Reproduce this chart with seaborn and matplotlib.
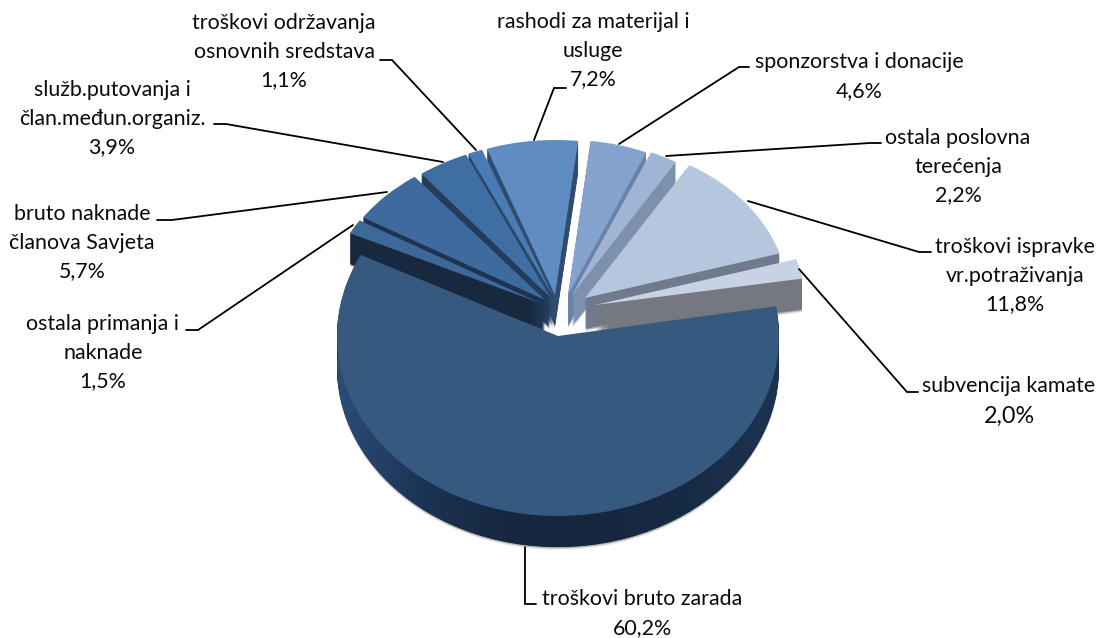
"""
Troskovi - exploded 3D style pie, built from stacked seaborn/matplotlib pie layers
"""

import numpy as np
import matplotlib
matplotlib.use('Agg')
import matplotlib.pyplot as plt
import seaborn as sns
from matplotlib.colors import LinearSegmentedColormap
from matplotlib.transforms import Affine2D

# ===================== Data =====================
slice_names = ["troškovi bruto zarada", "ostala primanja i naknade", "bruto naknade članova Savjeta",
               "služb.putovanja i član.međun.organiz.", "troškovi održavanja osnovnih sredstava",
               "rashodi za materijal i usluge", "sponzorstva i donacije", "ostala poslovna terećenja",
               "troškovi ispravke vr.potraživanja", "subvencija kamate"]
slice_values = [60.2, 1.5, 5.7, 3.9, 1.1, 7.2, 4.6, 2.2, 11.8, 2.0]

label_lines = [["troškovi bruto zarada"], ["ostala primanja i", "naknade"], ["bruto naknade", "članova Savjeta"],
               ["služb.putovanja i", "član.međun.organiz."], ["troškovi održavanja", "osnovnih sredstava"],
               ["rashodi za materijal i", "usluge"], ["sponzorstva i donacije"], ["ostala poslovna", "terećenja"],
               ["troškovi ispravke", "vr.potraživanja"], ["subvencija kamate"]]

# ===================== Styling / layout (pixels) =====================
top_colors = ["#36597f", "#3e6898", "#3e6a9d", "#3f6ea3", "#4a7bb4", "#5f8cc2",
              "#86a3cf", "#a0b5d6", "#b5c6df", "#c8d2e5"]
side_colors = ["#182b45", "#17283f", "#1d3352", "#223c5e", "#2b4768", "#2f4c70",
               "#6a82a8", "#7d91ae", "#6f7a8c", "#75797f"]
draw_order = [5, 4, 3, 2, 1, 6, 7, 8, 9, 0]

tip_x = [558, 540, 545, 550, 553, 555, 568, 572, 585, 595]
tip_y = [336, 303, 300, 297, 296, 295, 295, 295, 298, 305]
radius_x = [221, 213, 215, 212, 214, 205, 200, 202, 203, 210]
radius_y = [180, 155, 155, 155, 155, 155, 155, 155, 155, 160]
depth = 31
start_angle = 9.5

label_x = [642, 103, 82, 112, 284, 593, 859, 958, 1015, 1009]
label_y = [599, 324, 214, 90, 23, 22, 62, 138, 247, 386]
line_step = 28.7
label_font = 15.4
pct_font = [15.4, 15.4, 15.4, 15.4, 15.4, 15.4, 15.4, 15.4, 15.4, 16.8]

leaders = [[(536, 604), (525, 604), (525, 547)],
           [(186, 330), (198, 330), (353, 225)],
           [(157, 220), (172, 220), (387, 192)],
           [(214, 124), (226, 124), (443, 162)],
           [(380, 60), (392, 60), (476, 150)],
           [(566, 88), (554, 88), (534, 140)],
           [(749, 67), (739, 67), (619, 144)],
           [(881, 143), (870, 143), (666, 156)],
           [(931, 252), (919, 252), (748, 201)],
           [(918, 392), (907, 392), (799, 269)]]

# =====================================================

sns.set_theme(style="white")
plt.rcParams['font.family'] = ['Lato', 'DejaVu Sans']

fig = plt.figure(figsize=(11.01, 6.38), dpi=100)
ax = fig.add_axes([0, 0, 1, 1])


def draw_layer(offset, colors, bump):
    """One full pie, every slice moved to its own tip and squashed to its own ellipse."""
    wedges, _ = ax.pie(slice_values, startangle=start_angle, counterclock=False,
                       colors=colors, radius=1, wedgeprops={'linewidth': 0})
    for i, w in enumerate(wedges):
        tr = Affine2D().scale(radius_x[i], -radius_y[i]).translate(tip_x[i], tip_y[i] + offset)
        w.set_transform(tr + ax.transData)
        w.set_zorder(draw_order.index(i) * 10 + bump)
        w.set_clip_on(False)
    return wedges


# soft shadow, then sides, top faces over them
draw_layer(depth + 3, [(0, 0, 0, 0.06)] * 10, 0)
draw_layer(depth + 2, [(0, 0, 0, 0.12)] * 10, 0)
draw_layer(depth + 1, [(0, 0, 0, 0.22)] * 10, 0)

bottom_wedges = None
for off in range(depth, 0, -1):
    layer = draw_layer(off, side_colors, 1)
    if bottom_wedges is None:
        bottom_wedges = layer
draw_layer(0, top_colors, 5)

# main slice side is lighter towards the far left
side_cmap = LinearSegmentedColormap.from_list("side", ["#2b4d77", "#1b3252", "#16263e", "#16263e", "#182b45", "#1c3350"])
grad = np.linspace(0, 1, 256).reshape(1, -1)
im = ax.imshow(grad, cmap=side_cmap, aspect='auto', extent=(337, 779, 548, 336),
               zorder=draw_order.index(0) * 10 + 4)
im.set_clip_path(bottom_wedges[0])

ax.set_aspect('auto')
ax.set_xlim(0, 1101)
ax.set_ylim(638, 0)
ax.axis('off')

# leader lines and labels
for pts in leaders:
    xs, ys = zip(*pts)
    ax.plot(xs, ys, color='black', lw=1.3, solid_joinstyle='miter', zorder=200)

for i, lines in enumerate(label_lines):
    y = label_y[i]
    for line in lines:
        ax.text(label_x[i], y, line, ha='center', va='center', fontsize=label_font, color='#0a0a0a', zorder=210)
        y += line_step
    pct = f"{slice_values[i]:.1f}%".replace('.', ',')
    if i == 9:
        y += 2
    ax.text(label_x[i], y, pct, ha='center', va='center', fontsize=pct_font[i], color='#0a0a0a', zorder=210)

fig.savefig("out.png", dpi=100, facecolor='white')
